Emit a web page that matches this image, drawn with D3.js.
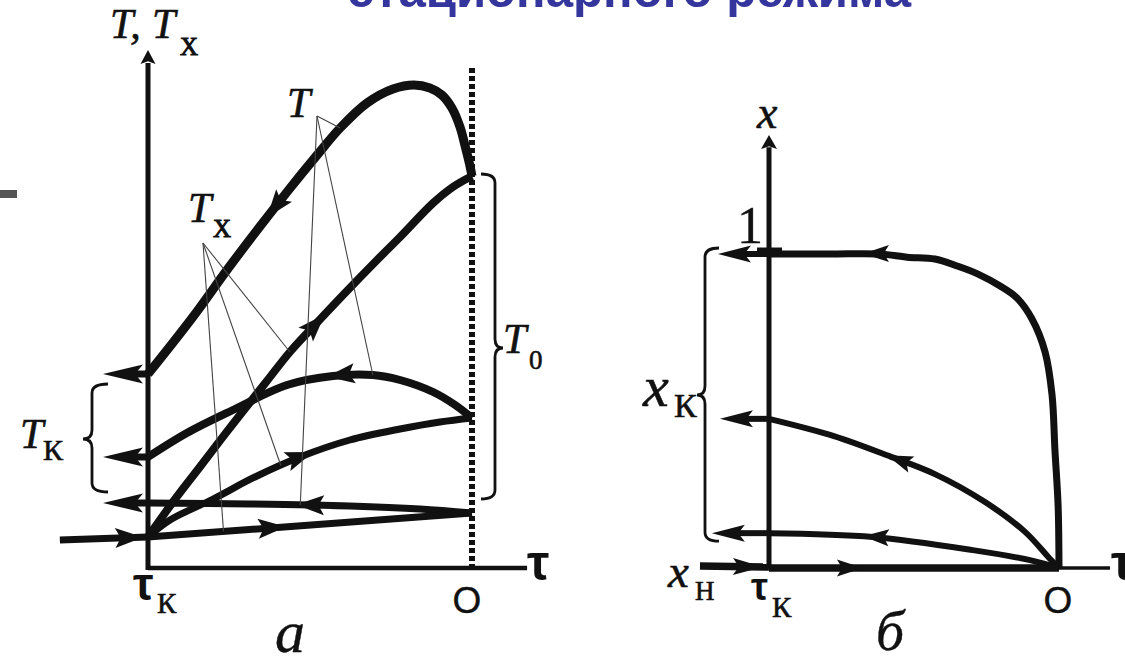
<!DOCTYPE html>
<html lang="ru">
<head>
<meta charset="utf-8">
<title>Фазовые траектории стационарного режима</title>
<script src="https://cdn.jsdelivr.net/npm/d3@7/dist/d3.min.js"></script>
<style>
  html, body { margin: 0; padding: 0; background: #fff; }
  svg { display: block; }
</style>
</head>
<body>
<svg id="chart" width="1125" height="660"></svg>
<script>
// ---------- Panel а: temperatures along the apparatus, τ from τк (-1) to 0, T normalised ----------
const hotTop  = [[-1,0.388],[-0.864,0.50],[-0.738,0.612],[-0.571,0.752],[-0.478,0.826],[-0.407,0.88],[-0.324,0.93],[-0.244,0.958],[-0.179,0.966],[-0.130,0.96],[-0.093,0.946],[-0.062,0.92],[-0.037,0.882],[-0.022,0.846],[-0.009,0.812],[0,0.784]];
const coldTop = [[-1,0.062],[-0.923,0.132],[-0.840,0.202],[-0.738,0.288],[-0.633,0.374],[-0.562,0.432],[-0.491,0.482],[-0.392,0.55],[-0.293,0.616],[-0.222,0.662],[-0.120,0.73],[-0.059,0.762],[0,0.784]];
const hotMid  = [[-1,0.222],[-0.880,0.27],[-0.738,0.316],[-0.571,0.366],[-0.429,0.384],[-0.306,0.386],[-0.222,0.376],[-0.120,0.352],[-0.052,0.326],[0,0.30]];
const coldMid = [[-1,0.062],[-0.932,0.096],[-0.799,0.138],[-0.670,0.182],[-0.531,0.222],[-0.377,0.256],[-0.222,0.278],[-0.099,0.292],[0,0.30]];
const hotLow  = [[-1,0.13],[-0.685,0.128],[-0.377,0.124],[-0.160,0.118],[0,0.11]];
const coldLow = [[-1,0.062],[0,0.11]];
const feedA   = [[-1.272,0.056],[-1,0.062]];

// ---------- Panel б: conversion x along the apparatus ----------
const xTop  = [[-1,1.0],[-0.790,1.0],[-0.617,1.0],[-0.524,0.990],[-0.428,0.984],[-0.352,0.962],[-0.279,0.936],[-0.203,0.898],[-0.145,0.860],[-0.093,0.793],[-0.048,0.688],[-0.024,0.551],[-0.014,0.376],[-0.003,0.197],[0,0]];
const xMid  = [[-1,0.475],[-0.776,0.420],[-0.579,0.354],[-0.428,0.299],[-0.255,0.210],[-0.117,0.115],[-0.034,0.032],[0,0]];
const xLow  = [[-1,0.111],[-0.641,0.099],[-0.297,0.057],[-0.1,0.025],[0,0]];
const xBase = [[-1,0],[0,0]];
const feedB = [[-1.238,0.006],[-1,0.003]];

const SERIF = "'Liberation Serif','Times New Roman',serif";
const SANS  = "'Liberation Sans',Arial,sans-serif";
const INK = "#111";

const svg = d3.select("#chart");

// scales
const xA = d3.scaleLinear().domain([-1, 0]).range([148, 472]);
const yA = d3.scaleLinear().domain([0, 1]).range([568, 68]);
const xB = d3.scaleLinear().domain([-1, 0]).range([769, 1059]);
const yB = d3.scaleLinear().domain([0, 1]).range([568, 254]);

const lineGen = (sx, sy) => d3.line().x(d => sx(d[0])).y(d => sy(d[1])).curve(d3.curveCatmullRom.alpha(0.5));

function arrowPath(len, wid) {
  return `M0,0 L${-len},${-wid / 2} L${-len * 0.8},0 L${-len},${wid / 2} Z`;
}
// point on an x-monotone path at a given screen x, with its tangent angle
function pointAtX(node, px) {
  const L = node.getTotalLength();
  let lo = 0, hi = L;
  for (let i = 0; i < 40; i++) {
    const mid = (lo + hi) / 2;
    if (node.getPointAtLength(mid).x < px) lo = mid; else hi = mid;
  }
  const p = node.getPointAtLength(lo);
  const a = node.getPointAtLength(Math.max(0, lo - 2));
  const b = node.getPointAtLength(Math.min(L, lo + 2));
  return { x: p.x, y: p.y, angle: Math.atan2(b.y - a.y, b.x - a.x) * 180 / Math.PI };
}
function interpY(data, t) {
  for (let i = 0; i < data.length - 1; i++) {
    const [t0, v0] = data[i], [t1, v1] = data[i + 1];
    if (t >= t0 && t <= t1) return v0 + (v1 - v0) * (t - t0) / (t1 - t0);
  }
  return data[data.length - 1][1];
}
function brace(g, xv, y0, y1, xe, xt, ym) {
  const r = 9;
  g.append("path")
    .attr("d", `M${xe},${y0} Q${xv},${y0} ${xv},${y0 + r} L${xv},${ym - r} Q${xv},${ym} ${xt},${ym} ` +
               `Q${xv},${ym} ${xv},${ym + r} L${xv},${y1 - r} Q${xv},${y1} ${xe},${y1}`)
    .attr("fill", "none").attr("stroke", INK).attr("stroke-width", 2.8);
}
function label(g, x, y, txt, size, opts = {}) {
  return g.append("text").attr("x", x).attr("y", y).text(txt)
    .attr("font-family", opts.family || SERIF).attr("font-size", size)
    .attr("font-style", opts.italic ? "italic" : "normal")
    .attr("font-weight", opts.bold ? "bold" : "normal")
    .attr("text-anchor", opts.anchor || "start").attr("fill", INK)
    .attr("stroke", INK).attr("stroke-width", opts.thick == null ? 0.6 : opts.thick);
}

// slide heading (cut off by the top edge)
svg.append("text").attr("x", 347).attr("y", 7).text("стационарного режима")
  .attr("font-family", SANS).attr("font-weight", "bold").attr("font-size", 50)
  .attr("fill", "#35359e").attr("textLength", 564).attr("lengthAdjust", "spacingAndGlyphs");
svg.append("rect").attr("x", 0).attr("y", 190).attr("width", 17).attr("height", 8).attr("fill", "#555");

// ================= Panel а =================
const gA = svg.append("g");
// axes
gA.append("line").attr("x1", xA(-1)).attr("x2", xA(0.17)).attr("y1", yA(0)).attr("y2", yA(0))
  .attr("stroke", INK).attr("stroke-width", 4.5);
gA.append("line").attr("x1", xA(-1)).attr("x2", xA(-1)).attr("y1", yA(0) + 2).attr("y2", yA(1.01))
  .attr("stroke", INK).attr("stroke-width", 5);
gA.append("path").attr("d", arrowPath(14, 15)).attr("fill", INK)
  .attr("transform", `translate(${xA(-1)},${yA(1.036)}) rotate(-90)`);
// τ = 0 boundary
gA.append("line").attr("x1", xA(0)).attr("x2", xA(0)).attr("y1", yA(1)).attr("y2", yA(0))
  .attr("stroke", INK).attr("stroke-width", 6).attr("stroke-dasharray", "5,3");

const curvesA = [
  { data: hotTop,  w: 9,   tip: -0.633, dir: -1 },
  { data: coldTop, w: 8,   tip: -0.454, dir: 1 },
  { data: hotMid,  w: 8,   tip: -0.448, dir: -1 },
  { data: coldMid, w: 7,   tip: -0.49,  dir: 1 },
  { data: hotLow,  w: 7,   tip: -0.543, dir: -1 },
  { data: coldLow, w: 7,   tip: -0.574, dir: 1 },
  { data: feedA,   w: 7,   tip: -1.015, dir: 1 }
];
const lA = lineGen(xA, yA);
curvesA.forEach(c => {
  const p = gA.append("path").attr("d", lA(c.data)).attr("fill", "none")
    .attr("stroke", INK).attr("stroke-width", c.w).attr("stroke-linecap", "butt");
  const pt = pointAtX(p.node(), xA(c.tip));
  gA.append("path").attr("d", arrowPath(28, 20)).attr("fill", INK)
    .attr("transform", `translate(${pt.x},${pt.y}) rotate(${pt.angle + (c.dir < 0 ? 180 : 0)})`);
});
// outlet temperatures Tк leaving the apparatus
const outletTipA = -1.139;
[hotTop, hotMid, hotLow].forEach(d => {
  const v = d[0][1];
  gA.append("line").attr("x1", xA(-1)).attr("x2", xA(outletTipA) + 30).attr("y1", yA(v)).attr("y2", yA(v))
    .attr("stroke", INK).attr("stroke-width", 7);
  gA.append("path").attr("d", arrowPath(40, 19)).attr("fill", INK)
    .attr("transform", `translate(${xA(outletTipA)},${yA(v)}) rotate(180)`);
});

// leader lines from the curve names
const leaders = [
  { from: [317, 116], targets: [[hotTop, -0.407], [hotMid, -0.306], [hotLow, -0.53]] },
  { from: [203, 243], targets: [[coldTop, -0.562], [coldMid, -0.59], [coldLow, -0.767]] }
];
leaders.forEach(l => l.targets.forEach(([d, t]) => {
  gA.append("line").attr("x1", l.from[0]).attr("y1", l.from[1])
    .attr("x2", xA(t)).attr("y2", yA(interpY(d, t)))
    .attr("stroke", "#444").attr("stroke-width", 1.1);
}));

// braces
brace(gA, 92, yA(hotTop[0][1]) + 10, yA(hotLow[0][1]) - 11, 108, 83, 439);
brace(gA, 495, yA(hotTop[hotTop.length - 1][1]) - 2, yA(hotLow[hotLow.length - 1][1]) - 14, 481, 503, 348);

// labels
label(gA, 110, 38, "T,", 42, { italic: true });
label(gA, 152, 38, "T", 42, { italic: true });
label(gA, 180, 55, "Х", 25, { thick: 1 });
label(gA, 287, 117, "T", 42, { italic: true });
label(gA, 188, 222, "T", 42, { italic: true });
label(gA, 213, 237, "Х", 25, { thick: 1 });
label(gA, 20, 448, "T", 42, { italic: true });
label(gA, 43, 460, "К", 30);
label(gA, 503, 353, "T", 42, { italic: true });
label(gA, 529, 369, "0", 27);
label(gA, xA(0.17), 580, "τ", 50, { family: SANS, bold: true, thick: 0 });
label(gA, xA(-1) - 15, 600, "τ", 46, { family: SANS, bold: true, thick: 0 });
label(gA, xA(-1) + 9, 613, "К", 29);
label(gA, xA(0) - 5, 613, "O", 37, { family: SANS, anchor: "middle", thick: 0.4 });
label(gA, 275, 652, "а", 60, { italic: true, thick: 0.4 });

// ================= Panel б =================
const gB = svg.append("g");
gB.append("line").attr("x1", xB(0)).attr("x2", xB(0.176)).attr("y1", yB(0)).attr("y2", yB(0))
  .attr("stroke", INK).attr("stroke-width", 3.5);
gB.append("line").attr("x1", xB(-1)).attr("x2", xB(-1)).attr("y1", yB(0)).attr("y2", yB(1.34))
  .attr("stroke", INK).attr("stroke-width", 5);
gB.append("path").attr("d", arrowPath(14, 16)).attr("fill", INK)
  .attr("transform", `translate(${xB(-1)},${yB(1.379)}) rotate(-90)`);
// mark of x = 1 on the axis
gB.append("line").attr("x1", xB(-1) - 12).attr("x2", xB(-1) + 13).attr("y1", yB(1) - 2).attr("y2", yB(1) - 2)
  .attr("stroke", INK).attr("stroke-width", 9);

const curvesB = [
  { data: xTop,  w: 7,   tip: -0.676, dir: -1 },
  { data: xMid,  w: 6,   tip: -0.593, dir: -1 },
  { data: xLow,  w: 6,   tip: -0.676, dir: -1 },
  { data: xBase, w: 7.5, tip: -0.676, dir: 1 }
];
const lB = lineGen(xB, yB);
curvesB.forEach(c => {
  const p = gB.append("path").attr("d", lB(c.data)).attr("fill", "none")
    .attr("stroke", INK).attr("stroke-width", c.w);
  const pt = pointAtX(p.node(), xB(c.tip));
  gB.append("path").attr("d", arrowPath(26, 17)).attr("fill", INK)
    .attr("transform", `translate(${pt.x},${pt.y}) rotate(${pt.angle + (c.dir < 0 ? 180 : 0)})`);
});
// feed x_н entering
const pf = gB.append("path").attr("d", lB(feedB)).attr("fill", "none").attr("stroke", INK).attr("stroke-width", 7.5);
{
  const pt = pointAtX(pf.node(), xB(-1.021));
  gB.append("path").attr("d", arrowPath(30, 17)).attr("fill", INK)
    .attr("transform", `translate(${pt.x},${pt.y}) rotate(${pt.angle})`);
}
// outlet conversions xк
const outletTipB = [-1.176, -1.169, -1.197];
[xTop, xMid, xLow].forEach((d, i) => {
  const v = d[0][1];
  gB.append("line").attr("x1", xB(-1)).attr("x2", xB(outletTipB[i]) + 26).attr("y1", yB(v)).attr("y2", yB(v))
    .attr("stroke", INK).attr("stroke-width", 6);
  gB.append("path").attr("d", arrowPath(33, 17)).attr("fill", INK)
    .attr("transform", `translate(${xB(outletTipB[i])},${yB(v)}) rotate(180)`);
});
brace(gB, 705, yB(xTop[0][1]) - 6, yB(xLow[0][1]) + 8, 719, 697, 395);

label(gB, 757, 128, "x", 46, { italic: true });
label(gB, 737, 243, "1", 52, { thick: 0.4 });
label(gB, 643, 406, "x", 58, { italic: true });
label(gB, 674, 417, "К", 34);
label(gB, 668, 587, "x", 47, { italic: true });
label(gB, 695, 600, "Н", 27);
label(gB, 751, 600, "τ", 38, { family: SANS, bold: true, thick: 0 });
label(gB, 772, 617, "К", 29);
label(gB, xB(0) - 1, 613, "O", 37, { family: SANS, anchor: "middle", thick: 0.4 });
label(gB, 1111, 580, "τ", 50, { family: SANS, bold: true, thick: 0 });
label(gB, 876, 650, "б", 56, { italic: true, thick: 0.4 });
</script>
</body>
</html>
